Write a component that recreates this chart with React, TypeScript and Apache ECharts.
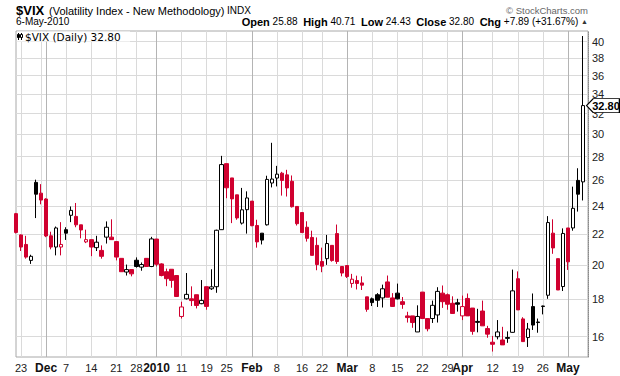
import React, { useEffect, useRef } from 'react';
import * as echarts from 'echarts';

const dates = [
  '2009-11-20','2009-11-23','2009-11-24','2009-11-25','2009-11-27','2009-11-30','2009-12-01','2009-12-02','2009-12-03','2009-12-04',
  '2009-12-07','2009-12-08','2009-12-09','2009-12-10','2009-12-11','2009-12-14','2009-12-15','2009-12-16','2009-12-17','2009-12-18',
  '2009-12-21','2009-12-22','2009-12-23','2009-12-24','2009-12-28','2009-12-29','2009-12-30','2009-12-31','2010-01-04','2010-01-05',
  '2010-01-06','2010-01-07','2010-01-08','2010-01-11','2010-01-12','2010-01-13','2010-01-14','2010-01-15','2010-01-19','2010-01-20',
  '2010-01-21','2010-01-22','2010-01-25','2010-01-26','2010-01-27','2010-01-28','2010-01-29','2010-02-01','2010-02-02','2010-02-03',
  '2010-02-04','2010-02-05','2010-02-08','2010-02-09','2010-02-10','2010-02-11','2010-02-12','2010-02-16','2010-02-17','2010-02-18',
  '2010-02-19','2010-02-22','2010-02-23','2010-02-24','2010-02-25','2010-02-26','2010-03-01','2010-03-02','2010-03-03','2010-03-04',
  '2010-03-05','2010-03-08','2010-03-09','2010-03-10','2010-03-11','2010-03-12','2010-03-15','2010-03-16','2010-03-17','2010-03-18',
  '2010-03-19','2010-03-22','2010-03-23','2010-03-24','2010-03-25','2010-03-26','2010-03-29','2010-03-30','2010-03-31','2010-04-01',
  '2010-04-05','2010-04-06','2010-04-07','2010-04-08','2010-04-09','2010-04-12','2010-04-13','2010-04-14','2010-04-15','2010-04-16',
  '2010-04-19','2010-04-20','2010-04-21','2010-04-22','2010-04-23','2010-04-26','2010-04-27','2010-04-28','2010-04-29','2010-04-30',
  '2010-05-03','2010-05-04','2010-05-05','2010-05-06'
];

const opens = [
  23.45,21.95,21.31,20.28,25.84,24.99,24.54,21.89,21.14,21.14,
  22.31,23.33,23.25,22.65,21.48,21.63,21.10,20.92,21.80,21.80,
  21.50,20.41,19.56,19.71,20.29,19.86,20.41,19.90,21.67,20.06,
  19.58,19.73,19.35,17.04,18.00,18.00,18.23,17.73,18.69,18.57,
  18.69,22.31,27.39,26.20,24.86,22.77,23.74,24.38,22.60,22.07,
  22.65,25.79,26.19,26.59,26.45,25.93,23.98,23.53,22.48,21.78,
  21.25,20.21,20.39,21.25,22.04,19.90,19.96,18.88,19.05,18.91,
  18.11,18.00,18.23,18.05,18.97,18.05,18.32,17.84,17.07,17.07,
  16.24,18.38,16.93,16.93,17.12,18.32,18.23,17.75,17.78,17.07,
  18.02,17.49,16.78,17.33,16.41,15.73,16.00,15.84,15.96,16.22,
  19.16,16.91,15.96,17.57,16.75,17.60,18.20,22.07,20.39,18.70,
  22.43,22.43,26.00,25.88
];

const highs = [
  23.50,21.98,21.89,20.64,26.06,25.70,24.60,22.17,22.53,22.84,
  22.48,23.98,24.24,22.65,22.31,21.63,21.89,21.25,22.89,23.04,
  21.50,20.41,20.02,19.71,20.47,20.15,20.43,21.82,21.68,20.10,
  19.77,19.73,19.35,17.84,19.50,18.71,18.23,19.08,18.69,19.73,
  22.31,28.06,27.39,26.20,24.86,25.40,25.13,24.38,23.01,22.07,
  26.38,29.22,27.20,26.70,26.87,26.40,23.98,23.53,22.90,22.24,
  21.78,21.10,21.95,21.25,22.67,19.90,19.96,19.45,19.34,19.30,
  18.11,18.07,18.32,18.81,19.35,18.32,18.87,18.10,17.29,17.07,
  17.64,18.38,16.93,17.90,18.66,18.76,18.30,18.14,18.00,18.18,
  18.30,17.49,17.45,17.90,16.55,16.04,16.85,16.50,16.27,19.71,
  19.60,17.00,16.70,18.30,16.93,17.62,23.27,23.04,20.39,22.40,
  22.43,25.50,27.00,40.71
];

const lows = [
  22.05,20.88,20.39,20.06,23.13,24.14,21.80,20.99,20.60,20.60,
  21.61,22.84,22.48,21.72,21.40,20.55,20.88,20.39,21.37,21.63,
  20.28,19.58,19.35,19.30,19.83,19.64,19.90,19.86,19.90,19.30,
  18.72,18.63,18.10,16.93,17.96,17.60,17.47,17.70,17.40,18.50,
  18.34,22.30,24.60,22.77,23.01,22.67,22.04,22.55,21.10,21.31,
  22.60,25.44,25.52,24.80,24.73,23.90,22.60,22.11,21.50,20.60,
  19.67,19.55,20.00,20.20,20.06,19.30,19.20,18.63,18.53,18.50,
  17.29,17.60,17.55,17.52,18.09,17.55,17.96,17.45,16.72,16.45,
  16.24,16.93,16.27,16.70,16.72,17.50,17.40,17.20,17.30,16.85,
  17.07,16.10,16.22,16.55,15.95,15.28,15.87,15.60,15.70,16.20,
  17.39,15.76,15.50,16.34,16.20,17.15,18.00,20.70,18.50,18.44,
  19.69,22.24,23.60,24.43
];

const closes = [
  22.12,21.14,20.49,20.54,24.91,24.46,21.88,21.14,22.43,21.31,
  22.07,23.69,22.65,22.29,21.63,21.14,21.46,20.54,22.48,21.63,
  20.49,19.58,19.71,19.45,19.90,20.02,19.90,21.68,20.04,19.35,
  19.16,19.06,18.13,17.55,18.25,17.90,17.63,17.91,17.58,18.68,
  22.27,27.31,25.41,24.55,23.14,23.73,24.62,22.59,21.48,21.60,
  26.08,26.11,26.51,26.00,25.40,23.96,22.73,22.11,21.72,20.60,
  20.02,19.92,21.37,20.27,20.21,19.50,19.29,19.13,18.88,18.78,
  17.42,17.79,17.92,18.57,18.09,17.58,18.00,17.69,16.98,16.72,
  17.04,16.93,16.40,17.64,18.42,17.84,17.70,17.20,17.70,17.57,
  17.07,16.27,16.73,16.55,16.13,15.63,16.24,15.60,15.92,18.45,
  17.39,15.76,16.39,16.59,16.72,17.58,22.81,21.08,18.50,22.05,
  20.19,23.84,24.91,32.80
];

const yTicks = [16, 18, 20, 22, 24, 26, 28, 30, 32, 34, 36, 38, 40];
const yRange = [15.024, 41.35];

const gridDates = [
  '2009-11-23','2009-11-30','2009-12-01','2009-12-07','2009-12-14','2009-12-21','2009-12-28','2010-01-04',
  '2010-01-11','2010-01-19','2010-01-25','2010-02-01','2010-02-08','2010-02-16','2010-02-22','2010-03-01',
  '2010-03-08','2010-03-15','2010-03-22','2010-03-29','2010-04-01','2010-04-12','2010-04-19','2010-04-26','2010-05-03'
];
const gridLabels = [
  '23','','Dec','7','14','21','28','2010',
  '11','19','25','Feb','8','16','22','Mar',
  '8','15','22','29','Apr','12','19','26','May'
];

const RED = '#d0002f';
const BLACK = '#000000';
const FONT = '"Liberation Sans", Arial, sans-serif';

export default function App() {
  const ref = useRef<HTMLDivElement>(null);

  useEffect(() => {
    if (!ref.current) return;
    const chart = echarts.init(ref.current, undefined, { renderer: 'svg' });

    const cats = [...dates, 'end'];
    const gridIdx = gridDates.map((d) => dates.indexOf(d));
    const isMonth = gridIdx.map((i) => i > 0 && dates[i].slice(5, 7) !== dates[i - 1].slice(5, 7));
    const labelByIdx: Record<number, { t: string; m: boolean }> = {};
    gridIdx.forEach((i, k) => { if (gridLabels[k]) labelByIdx[i] = { t: gridLabels[k], m: isMonth[k] }; });
    const gridSet = new Set(gridIdx);

    const data: any[] = dates.map((d, i) => {
      const o = opens[i], c = closes[i];
      const prev = i > 0 ? closes[i - 1] : o;
      const col = c < prev ? RED : BLACK;
      const fill = c > o ? '#ffffff' : col;
      return {
        value: [Math.log(o), Math.log(c), Math.log(lows[i]), Math.log(highs[i])],
        itemStyle: { color: fill, color0: fill, borderColor: col, borderColor0: col, borderWidth: 1 },
      };
    });
    data.push({ value: ['-', '-', '-', '-'] });

    const n = dates.length - 1;
    const last = closes[n];
    const chg = last - closes[n - 1];
    const pct = (chg / closes[n - 1]) * 100;
    const sign = chg >= 0 ? '+' : '';
    const hdr =
      `{b|Open} ${opens[n].toFixed(2)}  {b|High} ${highs[n].toFixed(2)}  {b|Low} ${lows[n].toFixed(2)}  ` +
      `{b|Close} ${last.toFixed(2)}  {b|Chg} ${sign}${chg.toFixed(2)} (${sign}${pct.toFixed(2)}%) {t|▲}`;

    chart.setOption({
      animation: false,
      backgroundColor: '#ffffff',
      grid: {
        left: 16, right: 32, top: 31, bottom: 19,
        show: true, borderColor: '#a8a8a8', borderWidth: 1, backgroundColor: 'transparent',
        outerBoundsMode: 'none',
      },
      xAxis: {
        type: 'category',
        data: cats,
        boundaryGap: false,
        axisLine: { show: false },
        axisTick: { show: false },
        axisLabel: {
          interval: (i: number) => labelByIdx[i] !== undefined,
          formatter: (_v: string, i: number) => {
            const l = labelByIdx[i];
            if (!l) return '';
            return l.m ? `{m|${l.t}}` : l.t;
          },
          margin: 5,
          fontSize: 11,
          fontFamily: FONT,
          color: '#222',
          rich: { m: { fontSize: 12, fontWeight: 'bold', fontFamily: FONT, color: '#111' } },
        },
        splitLine: {
          show: true,
          interval: (i: number) => gridSet.has(i),
          lineStyle: { color: isMonth.map((m) => (m ? '#b4b4b4' : '#dadada')), width: 1 },
        },
      },
      yAxis: {
        type: 'value',
        position: 'right',
        min: Math.log(yRange[0]),
        max: Math.log(yRange[1]),
        axisLine: { show: true, lineStyle: { color: '#8a8a8a', type: 'dotted' } },
        axisTick: { show: false, customValues: yTicks.map((v) => Math.log(v)) },
        axisLabel: {
          customValues: yTicks.map((v) => Math.log(v)),
          formatter: (v: number) => String(Math.round(Math.exp(v))),
          margin: 4,
          fontSize: 11,
          fontFamily: FONT,
          color: '#222',
        },
        splitLine: { show: true, lineStyle: { color: '#dadada', width: 1 } },
      },
      series: [
        {
          type: 'candlestick',
          data,
          barWidth: 4,
          clip: true,
          markPoint: {
            symbol: 'path://M0,7L7,0L34,0L34,14L7,14Z',
            symbolSize: [33, 14],
            symbolKeepAspect: false,
            symbolOffset: [15, 0],
            itemStyle: { color: '#ffffff', borderColor: '#000', borderWidth: 1 },
            label: {
              show: true, position: 'inside', offset: [3, 0],
              formatter: last.toFixed(2), color: '#000', fontWeight: 'bold', fontSize: 11, fontFamily: FONT,
            },
            data: [{ coord: ['end', Math.log(last)] }],
            z: 10,
          },
        },
      ],
      graphic: [
        { type: 'text', x: 16, y: 10, style: { text: '$VIX', fontSize: 13, fontWeight: 'bold', fontFamily: FONT, fill: '#000', verticalAlign: 'middle' } },
        { type: 'text', x: 49, y: 10.5, style: { text: '(Volatility Index - New Methodology)', fontSize: 11, fontFamily: FONT, fill: '#000', verticalAlign: 'middle' } },
        { type: 'text', x: 227, y: 10.5, style: { text: 'INDX', fontSize: 10, fontFamily: FONT, fill: '#000', verticalAlign: 'middle' } },
        { type: 'text', x: 16, y: 21.5, style: { text: '6-May-2010', fontSize: 10, fontFamily: FONT, fill: '#000', verticalAlign: 'middle' } },
        { type: 'text', x: 588, y: 10, style: { text: '© StockCharts.com', fontSize: 9.5, fontFamily: FONT, fill: '#666', align: 'right', verticalAlign: 'middle' } },
        {
          type: 'text', x: 588, y: 21.5,
          style: {
            text: hdr, fontSize: 10, fontFamily: FONT, fill: '#000', align: 'right', verticalAlign: 'middle',
            rich: {
              b: { fontSize: 11, fontWeight: 'bold', fontFamily: FONT, fill: '#000' },
              t: { fontSize: 7, fontFamily: FONT, fill: '#333' },
            },
          },
        },
        { type: 'rect', x: 17, y: 31.5, shape: { width: 113, height: 10 }, style: { fill: '#ffffff' }, z: 50 },
        { type: 'line', shape: { x1: 18.5, y1: 33, x2: 18.5, y2: 40 }, style: { stroke: '#000', lineWidth: 1 }, z: 51 },
        { type: 'rect', x: 17.5, y: 34.5, shape: { width: 2, height: 3 }, style: { fill: '#000', stroke: '#000', lineWidth: 1 }, z: 51 },
        { type: 'line', shape: { x1: 21.5, y1: 33, x2: 21.5, y2: 40 }, style: { stroke: '#000', lineWidth: 1 }, z: 51 },
        { type: 'rect', x: 20.5, y: 34.5, shape: { width: 2, height: 3 }, style: { fill: '#fff', stroke: '#000', lineWidth: 1 }, z: 51 },
        { type: 'text', x: 25, y: 37, style: { text: `$VIX (Daily) ${last.toFixed(2)}`, fontSize: 10.5, fontFamily: '"DejaVu Sans", Verdana, sans-serif', fill: '#000', verticalAlign: 'middle' }, z: 51 },
      ],
    });

    return () => chart.dispose();
  }, []);

  return (
    <div style={{ position: 'fixed', left: 0, top: 0, width: 620, height: 376, background: '#fff' }}>
      <div ref={ref} style={{ width: 620, height: 376 }} />
    </div>
  );
}
